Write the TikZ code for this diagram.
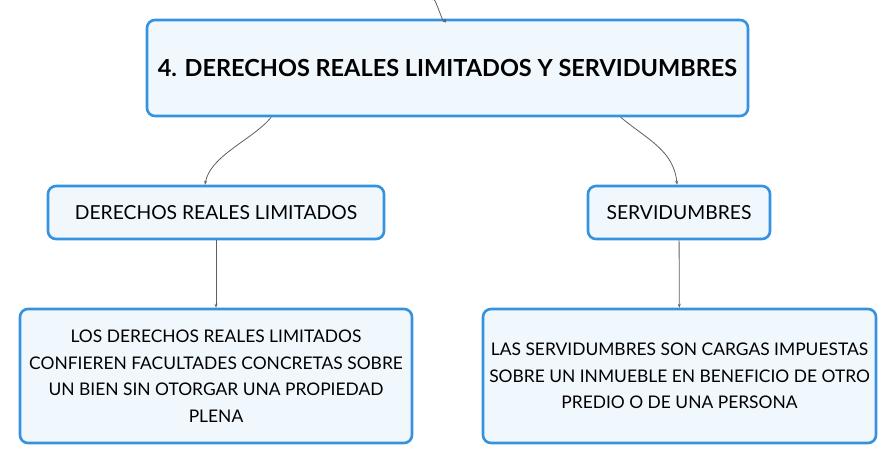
\documentclass[tikz,border=0pt]{standalone}
\usepackage{fontspec}
\setmainfont{Lato}
\usepackage{tikz}
\usetikzlibrary{positioning, calc, arrows.meta}
\definecolor{boxblue}{RGB}{52, 146, 222}
\definecolor{boxfill}{RGB}{240, 247, 253}
\definecolor{linkgray}{RGB}{95, 95, 95}

\begin{document}
\begin{tikzpicture}[x=1pt, y=-1pt,
	mapbox/.style={draw=boxblue, fill=boxfill, line width=2.6pt, rounded corners=8pt, align=center, inner sep=0pt, text=black},
	link/.style={draw=linkgray, line width=0.8pt, -{Stealth[length=4pt, width=3pt]}}]
				\useasboundingbox (0,0) rectangle (896,464);
				\node[mapbox, minimum width=601pt, minimum height=96pt, font=\fontsize{23.5}{28}\selectfont\bfseries] (title) at (447.5,68) {4. DERECHOS REALES LIMITADOS Y SERVIDUMBRES};
				\node[mapbox, minimum width=336pt, minimum height=53pt, font=\fontsize{19.3}{22}\selectfont] (lchild) at (216,212.5) {DERECHOS REALES LIMITADOS};
				\node[mapbox, minimum width=182pt, minimum height=53pt, font=\fontsize{19.3}{22}\selectfont] (rchild) at (679,212.5) {SERVIDUMBRES};
				\node[mapbox, minimum width=392pt, minimum height=134pt, font=\fontsize{17.4}{26.5}\selectfont] (lleaf) at (216,376) {LOS DERECHOS REALES LIMITADOS\\CONFIEREN FACULTADES CONCRETAS SOBRE\\UN BIEN SIN OTORGAR UNA PROPIEDAD\\PLENA};
				\node[mapbox, minimum width=393pt, minimum height=134pt, font=\fontsize{17.4}{26.5}\selectfont] (rleaf) at (679.5,376) {LAS SERVIDUMBRES SON CARGAS IMPUESTAS\\SOBRE UN INMUEBLE EN BENEFICIO DE OTRO\\PREDIO O DE UNA PERSONA};
				
				\coordinate (parent) at (432,0);
				\draw[link] (parent) to[out=75, in=-105] ([xshift=-2pt]title.north);
				\draw[link] ($(title.south west)!0.208!(title.south east)$) to[out=-130, in=80, looseness=0.8] ([xshift=-11pt]lchild.north);
				\draw[link] ($(title.south west)!0.787!(title.south east)$) to[out=-40, in=95] ([xshift=-2pt]rchild.north);
				\draw[link] (lchild) -- (lleaf);
				\draw[link] (rchild) -- (rleaf);
\end{tikzpicture}
\end{document}
